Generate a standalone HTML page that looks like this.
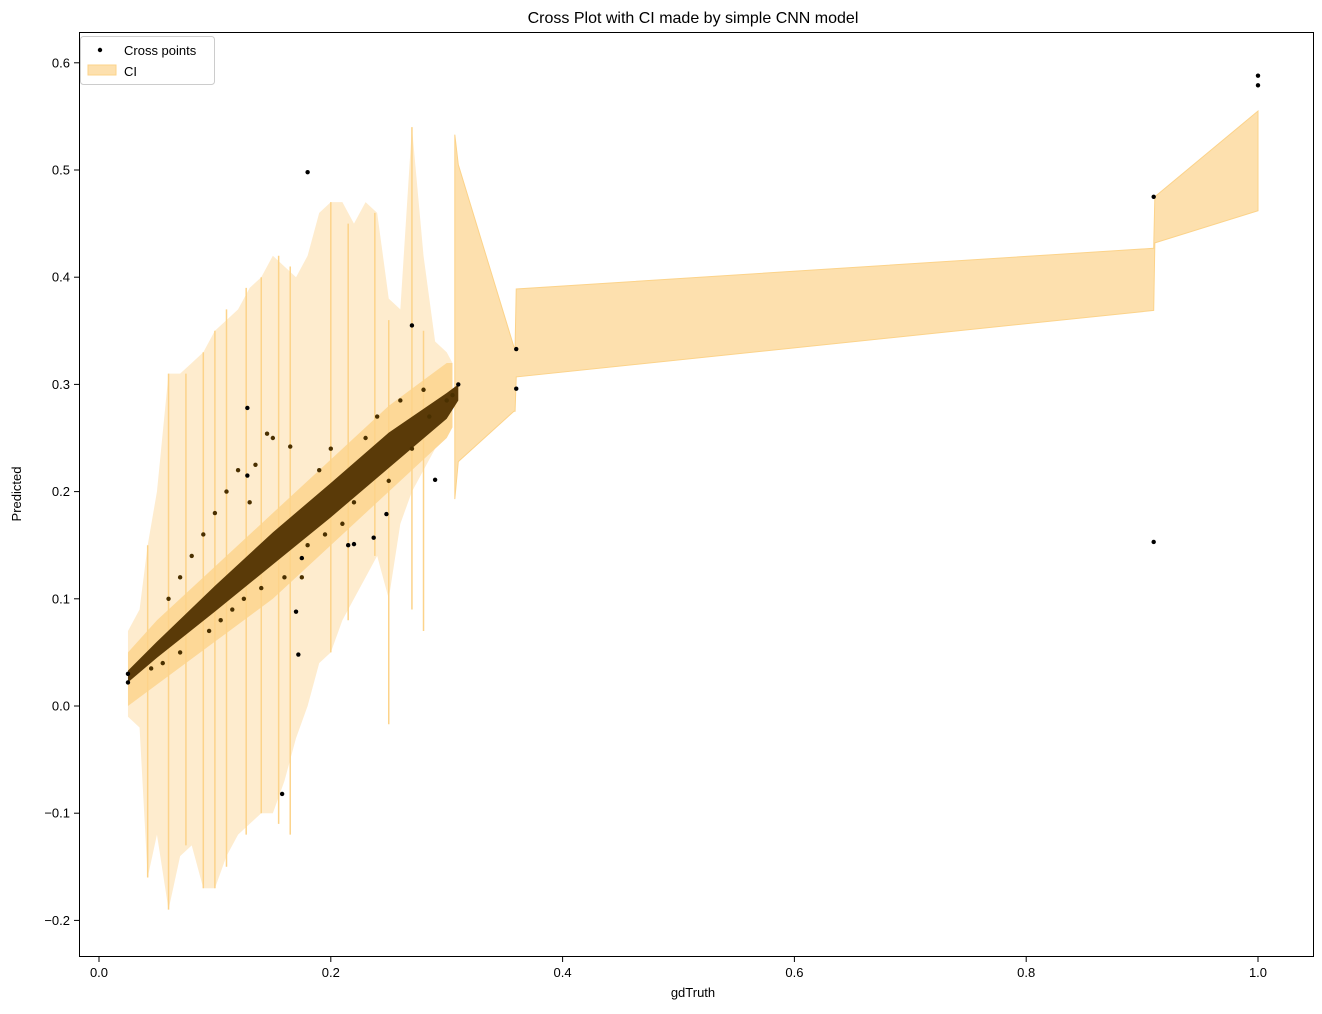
<!DOCTYPE html>
<html><head><meta charset="utf-8"><style>
body{margin:0;background:#fff;font-family:"Liberation Sans",sans-serif}
svg text{font-family:"Liberation Sans",sans-serif;fill:#000}
</style></head><body>
<svg id="chart" width="1322" height="1009" xmlns="http://www.w3.org/2000/svg">
<rect width="1322" height="1009" fill="#fff"/>
<text x="693" y="23" font-size="16" text-anchor="middle">Cross Plot with CI made by simple CNN model</text>
<g id="plot"></g>
<rect x="79.5" y="32.5" width="1234" height="924" fill="none" stroke="#000" stroke-width="1"/>
<g id="axes"></g>
<text x="693" y="997" font-size="13" text-anchor="middle">gdTruth</text>
<text transform="translate(21,494) rotate(-90)" font-size="13" text-anchor="middle">Predicted</text>
<g>
<rect x="80.5" y="36.5" width="134" height="48" rx="3" fill="#fff" stroke="#ccc"/>
<circle cx="100" cy="50" r="2.2" fill="#000"/>
<text x="124" y="55" font-size="13">Cross points</text>
<rect x="88" y="65" width="28" height="10" fill="#fde0ae" stroke="#fcd38a"/>
<text x="124" y="76" font-size="13">CI</text>
</g>
</svg>
<script>
const xTicks=[0.0,0.2,0.4,0.6,0.8,1.0];
const xTickLabels=["0.0","0.2","0.4","0.6","0.8","1.0"];
const yTicks=[-0.2,-0.1,0.0,0.1,0.2,0.3,0.4,0.5,0.6];
const yTickLabels=["\u22120.2","\u22120.1","0.0","0.1","0.2","0.3","0.4","0.5","0.6"];
const envX=[0.025,0.035,0.042,0.05,0.06,0.07,0.08,0.09,0.1,0.11,0.12,0.13,0.14,0.15,0.16,0.17,0.18,0.19,0.2,0.21,0.22,0.23,0.24,0.25,0.26,0.27,0.28,0.29,0.3,0.305];
const envLow=[-0.01,-0.02,-0.16,-0.12,-0.19,-0.14,-0.13,-0.17,-0.17,-0.14,-0.12,-0.11,-0.1,-0.1,-0.07,-0.03,0.0,0.04,0.05,0.08,0.1,0.12,0.14,0.1,0.17,0.2,0.22,0.24,0.25,0.26];
const envHigh=[0.07,0.09,0.15,0.2,0.31,0.31,0.32,0.33,0.35,0.36,0.37,0.39,0.40,0.42,0.41,0.40,0.42,0.46,0.47,0.47,0.45,0.47,0.46,0.38,0.37,0.54,0.42,0.34,0.33,0.32];
const spikeX=[0.042,0.06,0.075,0.09,0.1,0.11,0.127,0.14,0.155,0.165,0.2,0.215,0.238,0.25,0.27,0.28];
const spikeLow=[-0.16,-0.19,-0.13,-0.17,-0.17,-0.15,-0.12,-0.10,-0.11,-0.12,0.05,0.08,0.14,-0.017,0.09,0.07];
const spikeHigh=[0.15,0.31,0.31,0.33,0.35,0.37,0.39,0.40,0.42,0.41,0.47,0.45,0.46,0.36,0.54,0.35];
const bandX=[0.025,0.05,0.1,0.15,0.2,0.25,0.3,0.305];
const bandLow=[0.0,0.02,0.06,0.1,0.15,0.2,0.25,0.26];
const bandHigh=[0.05,0.08,0.13,0.18,0.23,0.28,0.32,0.32];
const ciX=[0.307,0.31,0.358,0.359,0.36,0.91,0.911,1.0];
const ciLow=[0.193,0.228,0.275,0.275,0.307,0.369,0.432,0.462];
const ciHigh=[0.533,0.505,0.335,0.335,0.389,0.427,0.475,0.555];
const coreX=[0.025,0.05,0.1,0.15,0.2,0.25,0.3,0.31];
const coreLow=[0.022,0.045,0.088,0.132,0.176,0.222,0.268,0.285];
const coreHigh=[0.033,0.06,0.112,0.162,0.208,0.255,0.292,0.3];
const ptX=[0.025,0.025,0.18,0.128,0.128,0.27,0.29,0.36,0.36,0.91,0.91,1.0,1.0,0.158,0.172,0.17,0.175,0.22,0.215,0.237,0.248,0.145,0.15,0.165,0.135,0.12,0.11,0.1,0.09,0.08,0.07,0.06,0.13,0.19,0.2,0.23,0.24,0.26,0.28,0.14,0.16,0.18,0.115,0.105,0.095,0.21,0.22,0.25,0.27,0.285,0.3,0.305,0.31,0.07,0.055,0.045,0.125,0.175,0.195];
const ptY=[0.022,0.03,0.498,0.278,0.215,0.355,0.211,0.333,0.296,0.475,0.153,0.588,0.579,-0.082,0.048,0.088,0.138,0.151,0.15,0.157,0.179,0.254,0.25,0.242,0.225,0.22,0.2,0.18,0.16,0.14,0.12,0.1,0.19,0.22,0.24,0.25,0.27,0.285,0.295,0.11,0.12,0.15,0.09,0.08,0.07,0.17,0.19,0.21,0.24,0.27,0.285,0.29,0.3,0.05,0.04,0.035,0.1,0.12,0.16];
const X=v=>99+v*1159, Y=v=>706-v*1072;
const NS="http://www.w3.org/2000/svg";
const plot=document.getElementById('plot'), axes=document.getElementById('axes');
function mk(t,a,p){const e=document.createElementNS(NS,t);for(const k in a)e.setAttribute(k,a[k]);(p||plot).appendChild(e);return e;}
function poly(xs,lo,hi){return xs.map((x,i)=>X(x)+','+Y(hi[i])).concat(xs.map((x,i)=>X(x)+','+Y(lo[i])).reverse()).join(' ');}
let e=mk('polygon',{points:poly(envX,envLow,envHigh),fill:'#fde0ae',opacity:'0.6'});


spikeX.forEach((x,i)=>{const l=mk('line',{x1:X(x),x2:X(x),y1:Y(spikeLow[i]),y2:Y(spikeHigh[i]),stroke:'#fcd38a','stroke-width':1.5});

});
e=mk('polygon',{points:poly(bandX,bandLow,bandHigh),fill:'#fcd38a',opacity:'0.8'});


e=mk('polygon',{points:poly(ciX,ciLow,ciHigh),fill:'#fde0ae',stroke:'#fcd38a','stroke-width':1});


e=mk('polygon',{points:poly(coreX,coreLow,coreHigh),fill:'#5a3a08'});


ptX.forEach((x,i)=>{const c=mk('circle',{cx:X(x),cy:Y(ptY[i]),r:2.2,fill:ptX[i]<0.31&&i>20?'#4a3000':'#000'});

});
xTicks.forEach((v,i)=>{const l=mk('line',{x1:X(v),x2:X(v),y1:957,y2:962,stroke:'#000'},axes);


const t=mk('text',{x:X(v),y:977,'font-size':13,'text-anchor':'middle'},axes);t.textContent=xTickLabels[i];

});
yTicks.forEach((v,i)=>{const l=mk('line',{x1:74,x2:79,y1:Y(v),y2:Y(v),stroke:'#000'},axes);


const t=mk('text',{x:70,y:Y(v)+4.5,'font-size':13,'text-anchor':'end'},axes);t.textContent=yTickLabels[i];

});
</script>
</body></html>
